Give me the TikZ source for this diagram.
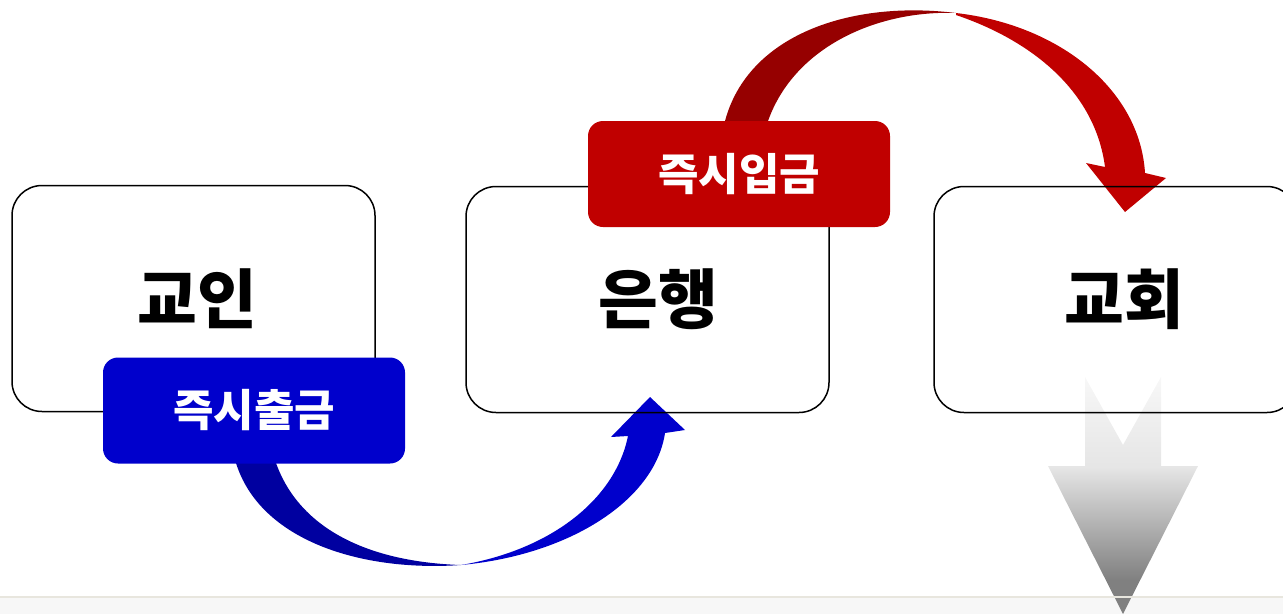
\documentclass[tikz,border=0pt]{standalone}
\usepackage{fontspec}
\newfontfamily\kofont{Noto Sans CJK KR}
\definecolor{outblue}{RGB}{0,0,204}
\definecolor{outbluedark}{RGB}{0,0,160}
\definecolor{inred}{RGB}{192,0,0}
\definecolor{inreddark}{RGB}{150,0,0}
\definecolor{pageline}{RGB}{232,230,222}
\pgfdeclareverticalshading{downgray}{100bp}{color(0bp)=(black!50); color(32bp)=(black!50); color(56bp)=(black!10); color(75bp)=(black!3); color(100bp)=(black!3)}
\begin{document}
\begin{tikzpicture}[x=1pt,y=-1pt]
        \tikzstyle{party}=[draw=black,line width=1.5pt,rounded corners=30pt,minimum width=363pt,minimum height=226pt,font=\kofont\bfseries\fontsize{65}{70}\selectfont]
        \tikzstyle{transfer}=[rounded corners=15pt,minimum width=302pt,minimum height=106pt,text=white,font=\kofont\bfseries\fontsize{44}{50}\selectfont]
        \useasboundingbox (0,0) rectangle (1283,614);
        \clip (0,0) rectangle (1283,614);
        \fill[black!3] (0,597) rectangle (1283,614);
       \begin{scope}
         % withdrawal arrow
         \fill[outbluedark] (236,463) .. controls (260,540) and (360,572) .. (461,565)
              .. controls (370,562) and (300,530) .. (276,463) -- cycle;
         \fill[outblue] (461,565) .. controls (570,555) and (655,500) .. (665,433)
              -- (685,430) -- (650,397) -- (611,437) -- (628,436)
              .. controls (615,500) and (550,550) .. (461,565) -- cycle;
         % deposit arrow
         \fill[inreddark] (725,121) .. controls (748,35) and (850,0) .. (956,13)
              .. controls (880,10) and (795,45) .. (768,121) -- cycle;
         \fill[inred] (956,13) .. controls (1060,25) and (1140,90) .. (1145,173)
              -- (1166,178) -- (1125,212) -- (1086,163) -- (1105,167)
              .. controls (1095,90) and (1030,40) .. (956,15) -- cycle;
         % down arrow
         \shade[shading=downgray] (1085,377) -- (1123,445) -- (1161,377) -- (1161,466)
              -- (1198,466) -- (1123,614) -- (1048,466) -- (1085,466) -- cycle;
       \end{scope}
         \node [party] (member) at (193.5,298.5) {\hspace*{8pt}교인};
         \node [party] (bank) at (647.5,299.5) {\hspace*{22pt}은행};
         \node [party] (church) at (1115.5,299.5) {\hspace*{18pt}교회};
         \node [transfer,fill=outblue] (out) at (254,410.5) {즉시출금};
         \node [transfer,fill=inred] (in) at (739,174) {즉시입금};
         \draw[pageline,line width=1.2pt] (0,597) -- (1283,597);
      \end{tikzpicture}
\end{document}
